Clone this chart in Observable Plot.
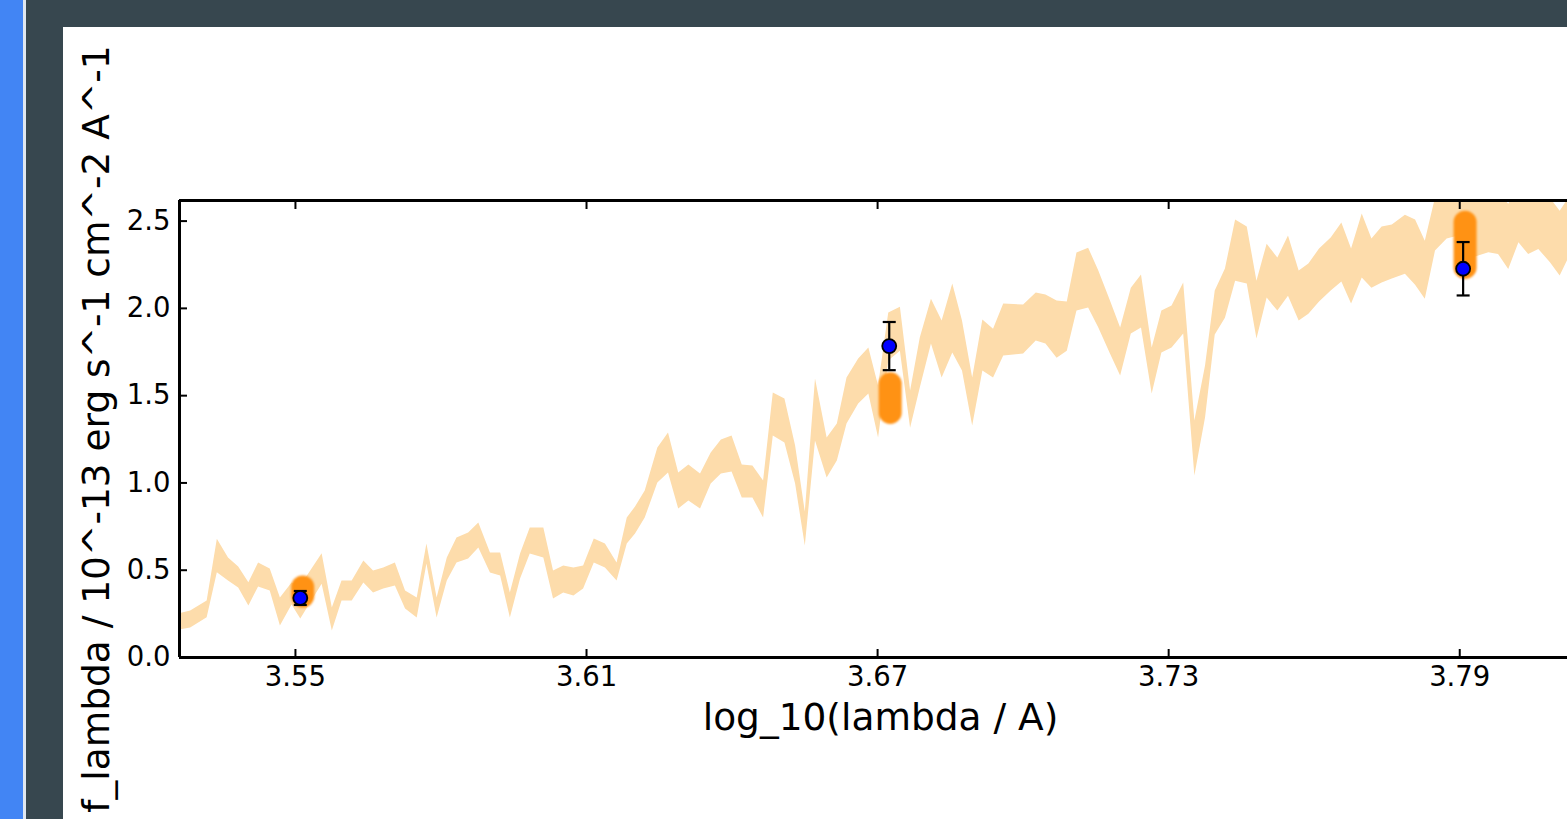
<!DOCTYPE html>
<html>
<head>
<meta charset="utf-8">
<script src="https://cdn.jsdelivr.net/npm/d3@7"></script>
<script src="https://cdn.jsdelivr.net/npm/@observablehq/plot@0.6"></script>
<style>
  html, body { margin: 0; padding: 0; }
  body { width: 1567px; height: 819px; overflow: hidden; background: #37474f; position: relative; font-family: "DejaVu Sans", sans-serif; }
  #strip { position: absolute; left: 0; top: 0; width: 23px; height: 819px; background: #4285f4; }
  #strip-edge { position: absolute; left: 23px; top: 0; width: 3px; height: 819px; background: #dfe7f1; }
  #panel { position: absolute; left: 63px; top: 27px; width: 1504px; height: 792px; background: #ffffff; overflow: hidden; }
  #panel svg { max-width: none !important; }
</style>
</head>
<body>
<div id="strip"></div>
<div id="strip-edge"></div>
<div id="panel"></div>
<script>
// ---- data ----
const wave = [3.5261,3.5284,3.5318,3.5339,3.5362,3.5383,3.5404,3.5424,3.5448,3.5469,3.5493,3.5511,3.5555,3.5576,3.5596,3.5617,3.5641,3.5661,3.5682,3.5706,3.5727,3.5751,3.5771,3.5792,3.5813,3.5833,3.5857,3.5878,3.5902,3.5923,3.5943,3.5964,3.5984,3.6012,3.6032,3.6053,3.6074,3.6094,3.6116,3.6139,3.6163,3.6184,3.6201,3.6221,3.6247,3.6269,3.6290,3.6311,3.6335,3.6357,3.6378,3.6400,3.6421,3.6443,3.6465,3.6485,3.6509,3.6531,3.6551,3.6572,3.6596,3.6617,3.6637,3.6661,3.6682,3.6702,3.6723,3.6747,3.6768,3.6788,3.6811,3.6833,3.6855,3.6875,3.6896,3.6917,3.6939,3.6960,3.6981,3.7001,3.7027,3.7047,3.7070,3.7091,3.7111,3.7135,3.7156,3.7180,3.7201,3.7223,3.7244,3.7266,3.7286,3.7307,3.7331,3.7354,3.7376,3.7396,3.7417,3.7438,3.7462,3.7482,3.7503,3.7525,3.7547,3.7569,3.7589,3.7611,3.7635,3.7657,3.7677,3.7699,3.7719,3.7740,3.7761,3.7788,3.7809,3.7829,3.7850,3.7874,3.7898,3.7918,3.7939,3.7960,3.7980,3.8001,3.8022,3.8042,3.8063,3.8087,3.8107,3.8132,3.8155];
const fluxHigh = [0.251,0.266,0.324,0.677,0.570,0.518,0.428,0.541,0.507,0.341,0.427,0.410,0.594,0.284,0.438,0.438,0.553,0.495,0.513,0.541,0.381,0.341,0.650,0.341,0.570,0.684,0.713,0.770,0.599,0.599,0.369,0.593,0.742,0.742,0.495,0.524,0.513,0.524,0.679,0.650,0.541,0.799,0.862,0.954,1.200,1.286,1.057,1.103,1.051,1.171,1.246,1.269,1.103,1.097,1.011,1.515,1.481,1.211,0.833,1.595,1.257,1.337,1.601,1.710,1.773,1.555,1.973,2.007,1.526,1.830,2.053,1.927,2.139,1.927,1.601,1.933,1.881,2.025,2.022,2.019,2.088,2.076,2.042,2.036,2.317,2.345,2.214,2.042,1.887,2.116,2.191,1.773,1.985,2.013,2.145,1.355,1.670,2.099,2.225,2.506,2.466,2.156,2.368,2.288,2.414,2.214,2.254,2.340,2.403,2.489,2.340,2.540,2.397,2.466,2.477,2.534,2.506,2.385,2.632,2.700,2.720,2.700,2.680,2.700,2.660,2.597,2.700,2.650,2.660,2.630,2.557,2.660,2.680];
const fluxLow = [0.157,0.169,0.228,0.486,0.438,0.398,0.295,0.404,0.381,0.180,0.301,0.220,0.419,0.152,0.324,0.324,0.427,0.369,0.392,0.410,0.278,0.226,0.536,0.226,0.438,0.541,0.564,0.627,0.484,0.467,0.226,0.450,0.593,0.570,0.335,0.369,0.352,0.392,0.541,0.513,0.438,0.650,0.707,0.799,0.999,1.057,0.851,0.896,0.851,0.994,1.051,1.062,0.914,0.914,0.799,1.269,1.229,0.994,0.639,1.240,1.028,1.125,1.337,1.452,1.509,1.257,1.698,1.755,1.314,1.544,1.796,1.601,1.744,1.641,1.326,1.641,1.601,1.727,1.733,1.738,1.813,1.796,1.715,1.755,1.985,2.002,1.887,1.738,1.612,1.853,1.887,1.509,1.744,1.773,1.853,1.040,1.372,1.847,1.944,2.156,2.139,1.824,2.059,1.985,2.070,1.927,1.967,2.036,2.099,2.151,2.025,2.174,2.116,2.145,2.168,2.196,2.133,2.053,2.328,2.397,2.414,2.282,2.300,2.318,2.309,2.223,2.376,2.309,2.338,2.261,2.185,2.330,2.350];

const photWave = [3.5510, 3.6724, 3.7907];
const photFlux = [0.341, 1.784, 2.227];
const photErr  = [0.040, 0.138, 0.153];

const modelWave = [3.5515, 3.6726, 3.7911];
const modelLow  = [0.349, 1.401, 2.232];
const modelHigh = [0.401, 1.565, 2.491];

const xTicks = [3.55, 3.61, 3.67, 3.73, 3.79];
const yTicks = [0.0, 0.5, 1.0, 1.5, 2.0, 2.5];
const xDomain = [3.5261, 3.8151];
const yDomain = [0, 2.618];
const xLabel = "log_10(lambda / A)";
const yLabel = "f_lambda / 10^-13 erg s^-1 cm^-2 A^-1";

// ---- build tables ----
const band = wave.map((w, i) => ({w, lo: fluxLow[i], hi: fluxHigh[i]}));
const phot = photWave.map((w, i) => ({w, f: photFlux[i], e: photErr[i]}));
const model = modelWave.map((w, i) => ({w, lo: modelLow[i], hi: modelHigh[i]}));

const hline = {draw(ctx, size) { const r = Math.sqrt(size / Math.PI); ctx.moveTo(-r, 0); ctx.lineTo(r, 0); }};

const chart = Plot.plot({
  width: 1518,
  height: 792,
  marginLeft: 116,
  marginTop: 173,
  marginRight: 0,
  marginBottom: 162,
  style: {fontFamily: "DejaVu Sans", fontSize: "27.5px", color: "black", background: "white", overflow: "visible", maxWidth: "none"},
  x: {domain: xDomain},
  y: {domain: yDomain},
  marks: [
    Plot.areaY(band, {x: "w", y1: "lo", y2: "hi", fill: "#fddcab", clip: true}),
    Plot.ruleX(model, {x: "w", y1: "lo", y2: "hi", stroke: "#ff9214", strokeWidth: 23, strokeLinecap: "round"}),
    Plot.ruleX(phot, {x: "w", y1: d => d.f - d.e, y2: d => d.f + d.e, stroke: "black", strokeWidth: 2.2}),
    Plot.dot(phot, {x: "w", y: d => d.f - d.e, symbol: hline, r: 6.5, stroke: "black", strokeWidth: 2.2}),
    Plot.dot(phot, {x: "w", y: d => d.f + d.e, symbol: hline, r: 6.5, stroke: "black", strokeWidth: 2.2}),
    Plot.dot(phot, {x: "w", y: "f", r: 7, fill: "#0000ff", stroke: "black", strokeWidth: 1.8}),
    Plot.axisX(xTicks, {anchor: "bottom", tickSize: -8, tickFormat: d3.format(".2f"), label: null, strokeWidth: 2}),
    Plot.axisX(xTicks, {anchor: "top", tickSize: -8, tickFormat: () => "", label: null, strokeWidth: 2}),
    Plot.axisY(yTicks, {anchor: "left", tickSize: -8, tickFormat: d3.format(".1f"), label: null, strokeWidth: 2}),
    Plot.ruleY([yDomain[0]], {stroke: "black", strokeWidth: 3}),
    Plot.ruleY([yDomain[1]], {stroke: "black", strokeWidth: 3}),
    Plot.ruleX([xDomain[0]], {stroke: "black", strokeWidth: 3}),
    Plot.text([xLabel], {text: d => d, frameAnchor: "bottom", textAnchor: "middle", lineAnchor: "bottom", dy: 72, fontSize: 37.5, fill: "black"}),
    Plot.text([yLabel], {text: d => d, frameAnchor: "left", textAnchor: "middle", rotate: -90, lineAnchor: "bottom", dx: -71, fontSize: 37.5, fill: "black"})
  ]
});

const orange = chart.querySelector('g[stroke="#ff9214"]');
if (orange) orange.style.filter = "blur(1.2px)";

document.getElementById("panel").appendChild(chart);
</script>
</body>
</html>
